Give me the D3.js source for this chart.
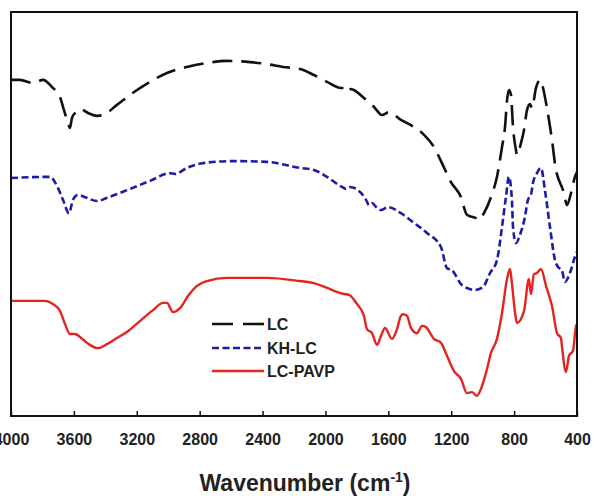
<!DOCTYPE html>
<html>
<head>
<meta charset="utf-8">
<script src="https://cdn.jsdelivr.net/npm/d3@7"></script>
<style>
  html, body { margin: 0; padding: 0; background: #fff; }
  svg { display: block; }
  text { font-family: "Liberation Sans", Arial, sans-serif; font-weight: bold; fill: #222; }
</style>
</head>
<body>
<svg id="chart" width="594" height="496"></svg>
<script>
// ---- Data (wavenumber in cm^-1, transmittance in arbitrary units) ----
const lcWave = [4000,3943,3860,3796,3739,3688,3663,3637,3625,3612,3587,3561,3510,3453,3415,3326,3224,3116,3008,2881,2753,2626,2480,2372,2270,2162,2073,1990,1901,1882,1863,1838,1755,1691,1640,1596,1520,1456,1373,1310,1259,1202,1138,1100,1068,1043,1024,992,947,909,877,858,845,833,820,807,788,782,756,737,718,699,686,661,635,623,591,559,534,515,502,483,464,438,413,400];
const lcValue = [83.2,83.2,82.4,83.2,81.4,78.9,75.7,72.5,71.3,73.8,75.2,76.0,75.0,74.3,74.5,77.0,80.0,82.7,84.9,86.4,87.4,87.9,87.6,87.1,86.4,85.9,84.4,82.7,81.2,81.2,80.2,80.9,78.7,76.5,74.5,75.2,73.3,72.0,69.6,66.6,62.6,57.9,54.2,49.8,49.3,49.0,48.5,50.2,54.2,59.2,66.6,71.5,78.2,80.7,79.5,71.5,65.8,64.6,67.6,70.8,75.7,77.2,76.2,81.2,83.2,82.2,76.2,68.3,60.9,58.4,57.2,55.2,52.2,55.2,59.2,60.4];

const khWave = [4000,3752,3701,3669,3631,3606,3574,3517,3453,3389,3262,3116,2989,2957,2881,2779,2588,2372,2162,2073,1990,1895,1869,1844,1774,1742,1723,1704,1672,1647,1602,1520,1437,1354,1265,1227,1195,1132,1049,998,953,909,877,852,833,814,807,788,763,731,712,693,680,655,629,604,572,540,521,496,477,445,413,400];
const khValue = [58.9,59.2,56.4,53.5,50.2,53.5,54.7,54.0,53.2,54.0,55.9,58.2,60.1,59.9,61.4,62.6,63.1,62.9,61.4,60.9,59.2,56.7,56.2,56.7,55.2,53.5,52.2,52.7,51.5,51.0,51.7,50.2,47.8,45.3,41.8,36.6,36.1,32.4,31.2,31.9,35.4,38.6,46.8,54.2,59.2,53.5,46.8,42.8,44.8,49.3,53.5,54.7,57.7,60.1,61.4,55.9,46.8,38.6,36.9,36.1,33.2,35.4,39.4,40.6];

const pavpWave = [4000,3784,3733,3688,3657,3625,3593,3548,3498,3447,3389,3326,3256,3180,3097,3033,3008,2970,2925,2874,2817,2753,2626,2372,2162,2073,1990,1882,1850,1799,1755,1736,1704,1672,1647,1621,1577,1545,1520,1507,1481,1456,1418,1386,1361,1310,1265,1227,1182,1138,1100,1068,1036,1011,979,947,909,877,845,826,814,794,782,737,706,693,674,655,629,597,559,527,502,496,470,451,426,406,400];
const pavpValue = [28.5,28.5,27.7,26.0,22.8,20.3,20.3,19.1,17.6,16.8,17.8,19.3,21.0,23.5,26.2,28.0,28.0,25.7,26.7,29.7,32.2,33.4,34.2,34.2,33.4,32.9,31.7,30.2,30.0,27.7,24.8,21.5,20.5,17.6,19.8,21.8,19.1,21.5,24.8,25.2,24.8,21.8,20.5,22.3,22.0,19.1,18.1,14.9,11.1,9.2,5.7,5.9,5.0,6.7,10.6,15.6,19.1,25.5,33.9,36.4,32.9,25.5,23.0,26.0,33.9,30.2,35.1,35.4,36.4,32.2,27.2,20.5,19.3,17.3,10.9,14.9,16.1,22.3,22.8];

const seriesNames = ["LC", "KH-LC", "LC-PAVP"];
const xTicks = [4000,3600,3200,2800,2400,2000,1600,1200,800,400];

// ---- Layout ----
const svg = d3.select("#chart");
const plotLeft = 11, plotRight = 577, plotTop = 12, plotBottom = 416;

const x = d3.scaleLinear().domain([4000, 400]).range([plotLeft, plotRight]);
const y = d3.scaleLinear().domain([0, 100]).range([plotBottom, plotTop]);

const series = [
  { name: seriesNames[0], wave: lcWave, value: lcValue, color: "#111", width: 2.6, dash: "20,9" },
  { name: seriesNames[1], wave: khWave, value: khValue, color: "#1c1ca6", width: 2.6, dash: "7,3.5" },
  { name: seriesNames[2], wave: pavpWave, value: pavpValue, color: "#e3241f", width: 2.4, dash: null }
];

const line = d3.line()
  .x(d => x(d[0]))
  .y(d => y(d[1]))
  .curve(d3.curveMonotoneX);

series.forEach(s => {
  const pts = s.wave.map((w, i) => [w, s.value[i]]);
  svg.append("path")
    .datum(pts)
    .attr("fill", "none")
    .attr("stroke", s.color)
    .attr("stroke-width", s.width)
    .attr("stroke-dasharray", s.dash)
    .attr("stroke-linejoin", "round")
    .attr("d", line);
});

// Axis
const axis = d3.axisBottom(x).tickValues(xTicks).tickSizeInner(-5).tickSizeOuter(0).tickPadding(18)
  .tickFormat(d3.format("d"));
const gx = svg.append("g").attr("transform", `translate(0,${plotBottom})`).call(axis);
gx.select(".domain").remove();
gx.selectAll(".tick line").attr("stroke", "#111").attr("stroke-width", 1.5);
gx.selectAll(".tick text")
  .attr("font-family", "'Liberation Sans', Arial, sans-serif")
  .attr("font-weight", "bold")
  .attr("font-size", 16)
  .attr("fill", "#222");

// Frame
svg.append("rect")
  .attr("x", plotLeft).attr("y", plotTop)
  .attr("width", plotRight - plotLeft).attr("height", plotBottom - plotTop)
  .attr("fill", "none").attr("stroke", "#111").attr("stroke-width", 2);

// Axis title
const title = svg.append("text")
  .attr("x", 305).attr("y", 491)
  .attr("text-anchor", "middle")
  .attr("font-size", 23);
title.append("tspan").text("Wavenumber (cm");
title.append("tspan").attr("font-size", 14).attr("dy", -9).text("-1");
title.append("tspan").attr("dy", 9).text(")");

// Legend
const legY = [324, 348, 371];
series.forEach((s, i) => {
  svg.append("line")
    .attr("x1", 212).attr("x2", 264)
    .attr("y1", legY[i]).attr("y2", legY[i])
    .attr("stroke", s.color)
    .attr("stroke-width", s.width)
    .attr("stroke-dasharray", i === 0 ? "21,10" : s.dash);
  svg.append("text")
    .attr("x", 267).attr("y", legY[i])
    .attr("dy", "0.36em")
    .attr("font-size", 16)
    .text(s.name);
});
</script>
</body>
</html>
